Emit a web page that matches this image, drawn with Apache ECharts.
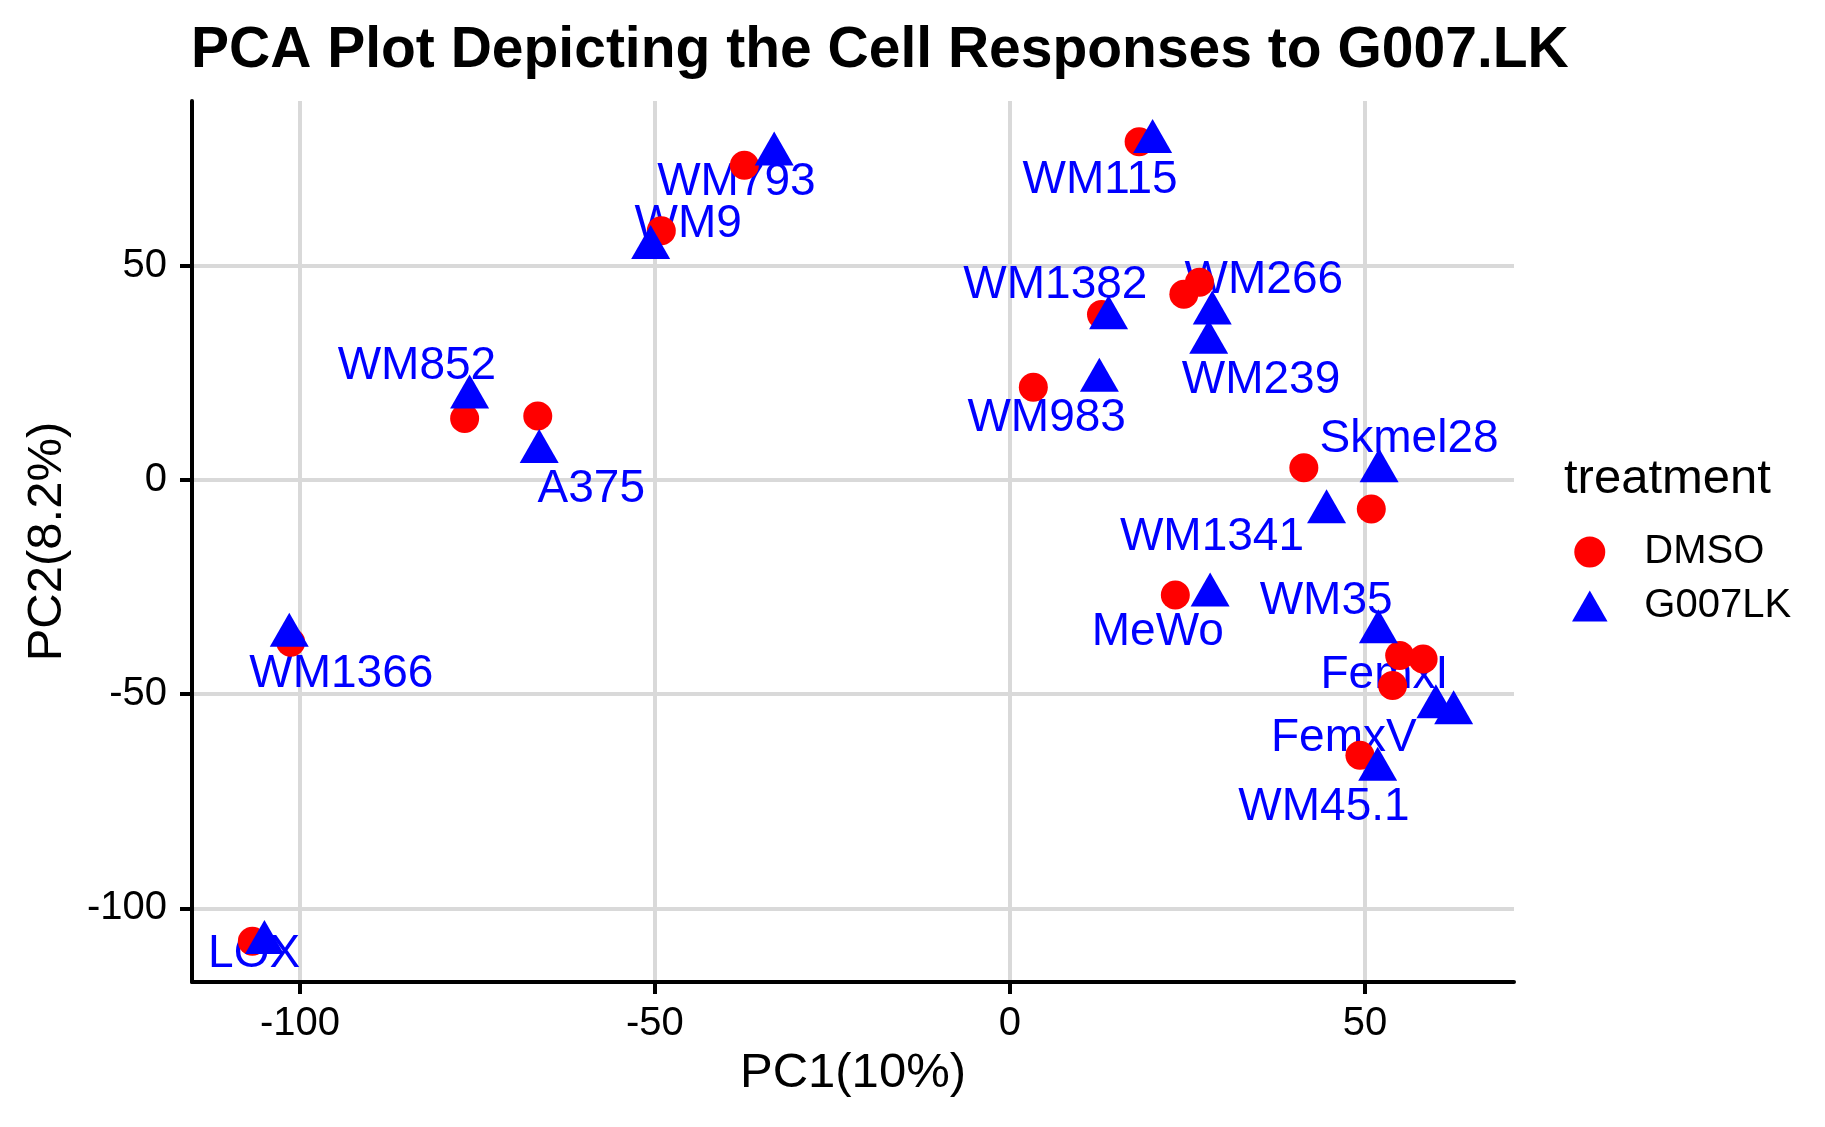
<!DOCTYPE html>
<html>
<head>
<meta charset="utf-8">
<script src="https://cdn.jsdelivr.net/npm/echarts@6/dist/echarts.min.js"></script>
<style>
  html, body { margin: 0; padding: 0; background: #ffffff; }
  #chart { width: 1825px; height: 1127px; }
</style>
</head>
<body>
<div id="chart"></div>
<script>
// ---- data ----
const cellLines = ['WM793', 'WM9', 'WM115', 'WM1382', 'WM266', 'WM239', 'WM983', 'WM852', 'A375',
                   'Skmel28', 'WM1341', 'MeWo', 'WM35', 'FemxI', 'FemxV', 'WM45.1', 'WM1366', 'LOX'];

const dmsoPC1 = [-37.4, -49.1, 18.2, 12.9, 26.7, 24.5, 3.3, -76.8, -66.5,
                 50.9, 41.4, 23.3, 54.9, 58.2, 53.9, 49.3, -101.3, -106.7];
const dmsoPC2 = [73.4, 58.1, 78.9, 38.6, 46.1, 43.3, 21.6, 14.3, 14.9,
                 -6.8, 2.8, -26.9, -41.0, -41.8, -48.0, -64.3, -37.9, -107.7];

const g007PC1 = [-33.2, -50.6, 20.1, 13.9, 28.5, 28.0, 12.6, -76.1, -66.3,
                 52.0, 44.6, 28.2, 51.9, 60.0, 62.5, 51.8, -101.5, -105.0];
const g007PC2 = [76.0, 54.2, 78.9, 37.8, 38.9, 32.1, 23.2, 19.3, 6.6,
                 2.1, -7.5, -26.9, -35.5, -53.0, -54.4, -67.6, -36.3, -108.0];

const treatments = ['DMSO', 'G007LK'];
const xTicks = [-100, -50, 0, 50];
const yTicks = [-100, -50, 0, 50];

// ---- layout (label repel offsets in pixels, relative to the G007LK point) ----
const labelNudge = [
  [-37.8, 25.1], [37.6, -26.7], [-52.6, 35.2], [-53.2, -35.5], [51.6, -35.6], [52.3, 34.9],
  [-52.7, 34.6], [-52.7, -33.9], [52.1, 34.4], [30.0, -34.9], [-114.6, 22.7], [-52.3, 34.2],
  [-52.3, -34.0], [-51.5, -35.0], [-109.8, 22.5], [-53.7, 35.0], [52.0, 35.6], [-10.3, 9.0]
];
const labelBaselineShift = 3;

const FONT = "'Liberation Sans', Arial, Helvetica, sans-serif";

const chart = echarts.init(document.getElementById('chart'), null, { renderer: 'canvas' });

const option = {
  animation: false,
  backgroundColor: '#ffffff',
  title: [
    {
      text: 'PCA Plot Depicting the Cell Responses to G007.LK',
      left: 191, top: 23, padding: 0,
      textStyle: { fontSize: 57, fontWeight: 'bold', color: '#000000', fontFamily: FONT }
    },
    {
      text: 'treatment',
      left: 1564, top: 454.5, padding: 0,
      textStyle: { fontSize: 49, fontWeight: 'normal', color: '#000000', fontFamily: FONT }
    }
  ],
  legend: {
    data: [
      { name: treatments[0], icon: 'circle' },
      { name: treatments[1], icon: 'path://M19.5,0L39,34L0,34Z' }
    ],
    orient: 'vertical',
    left: 1572, top: 532, padding: 0,
    itemWidth: 99, itemHeight: 31, itemGap: 14,
    symbolKeepAspect: true,
    selectedMode: false,
    textStyle: { fontSize: 40, color: '#000000', fontFamily: FONT }
  },
  grid: { left: 192, right: 311, top: 101, bottom: 145, containLabel: false },
  xAxis: {
    type: 'value', min: -115.2, max: 71.0, splitNumber: 4,
    name: 'PC1(10%)', nameLocation: 'middle', nameGap: 66,
    nameTextStyle: { fontSize: 49, color: '#000000', fontFamily: FONT },
    axisLine: { show: true, onZero: false, lineStyle: { color: '#000000', width: 4 } },
    axisTick: { show: true, length: 12, customValues: xTicks, lineStyle: { color: '#000000', width: 4 } },
    axisLabel: { fontSize: 40, color: '#000000', margin: 22, fontFamily: FONT, customValues: xTicks },
    splitLine: { show: true, lineStyle: { color: '#D9D9D9', width: 4 } }
  },
  yAxis: {
    type: 'value', min: -117.2, max: 88.4, splitNumber: 4,
    name: 'PC2(8.2%)', nameLocation: 'middle', nameGap: 120.5,
    nameTextStyle: { fontSize: 49, color: '#000000', fontFamily: FONT },
    axisLine: { show: true, onZero: false, lineStyle: { color: '#000000', width: 4 } },
    axisTick: { show: true, length: 12, customValues: yTicks, lineStyle: { color: '#000000', width: 4 } },
    axisLabel: { fontSize: 40, color: '#000000', margin: 25, fontFamily: FONT, customValues: yTicks },
    splitLine: { show: true, lineStyle: { color: '#D9D9D9', width: 4 } }
  },
  series: [
    {
      name: treatments[0], type: 'scatter', symbol: 'circle', symbolSize: 29,
      itemStyle: { color: '#FF0000', opacity: 1 },
      emphasis: { disabled: true },
      data: cellLines.map((c, i) => ({ name: c, value: [dmsoPC1[i], dmsoPC2[i]] }))
    },
    {
      name: treatments[1], type: 'scatter', symbol: 'triangle', symbolSize: [39, 34], symbolOffset: [0, -5.6],
      itemStyle: { color: '#0000FF', opacity: 1 },
      emphasis: { disabled: true },
      data: cellLines.map((c, i) => ({ name: c, value: [g007PC1[i], g007PC2[i]] }))
    },
    {
      name: 'labels', type: 'custom', silent: true, clip: false,
      encode: { x: 0, y: 1 },
      data: cellLines.map((c, i) => [g007PC1[i], g007PC2[i]]),
      renderItem: function (params, api) {
        const i = params.dataIndex;
        const p = api.coord([api.value(0), api.value(1)]);
        return {
          type: 'text',
          x: p[0] + labelNudge[i][0],
          y: p[1] + labelNudge[i][1] + labelBaselineShift,
          z2: 10,
          style: {
            text: cellLines[i],
            fill: '#0000FF',
            fontSize: 46,
            fontFamily: FONT,
            align: 'center',
            verticalAlign: 'middle',
            textAlign: 'center',
            textVerticalAlign: 'middle'
          }
        };
      }
    }
  ]
};

chart.setOption(option);
</script>
</body>
</html>
